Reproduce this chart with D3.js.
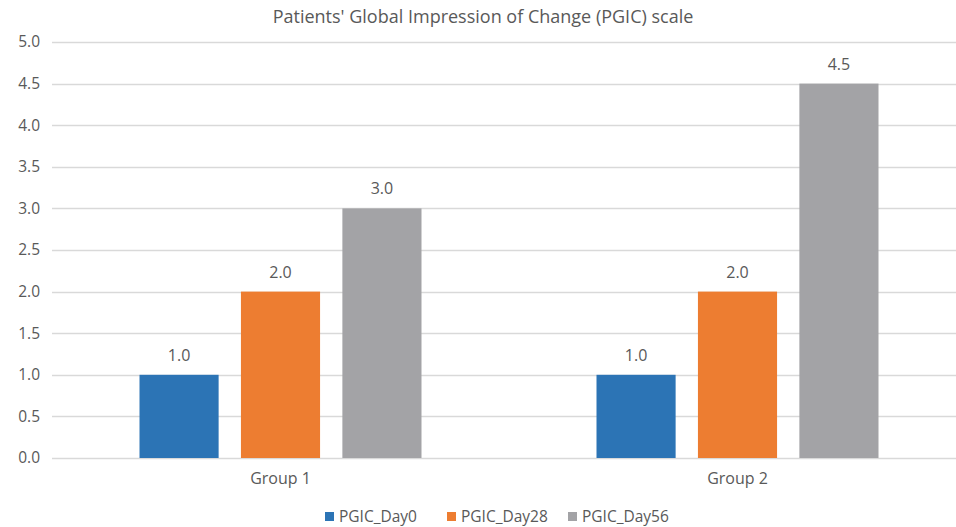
<!DOCTYPE html>
<html>
<head>
<meta charset="utf-8">
<script src="https://cdn.jsdelivr.net/npm/d3@7"></script>
<style>
  body { margin: 0; background: #fff; }
  text { font-family: "Open Sans", "Liberation Sans", sans-serif; fill: #595959; }
</style>
</head>
<body>
<div id="chart-area"></div>
<script>
// Data
const groups = ["Group 1", "Group 2"];
const series = ["PGIC_Day0", "PGIC_Day28", "PGIC_Day56"];
const day0Values = [1.0, 1.0];
const day28Values = [2.0, 2.0];
const day56Values = [3.0, 4.5];
const yTicks = [0, 0.5, 1, 1.5, 2, 2.5, 3, 3.5, 4, 4.5, 5];
const colors = ["#2c74b5", "#ed7d31", "#a3a3a6"];

const seriesValues = [day0Values, day28Values, day56Values];

let width = 956, height = 527;
let margin = {top: 42, right: 0, bottom: 69, left: 52};

let svg = d3.select("#chart-area").append("svg")
    .attr("width", width)
    .attr("height", height);

// Scales
let x0 = d3.scaleBand().domain(groups).range([margin.left, 966]).padding(0);
let x1 = d3.scaleBand().domain(series).range([-141, 141]).paddingInner(0.22).paddingOuter(0);
let y = d3.scaleLinear().domain([0, 5]).range([height - margin.bottom, margin.top]);

// Y axis labels
let yAxis = svg.append("g")
    .attr("transform", "translate(" + (margin.left - 12) + ",0)")
    .call(d3.axisLeft(y).tickValues(yTicks).tickFormat(d3.format(".1f")).tickSize(0));
yAxis.select(".domain").remove();
yAxis.selectAll("text")
    .attr("x", 0)
    .style("font-size", "15.5px")
    .style("font-family", "'Open Sans', sans-serif")
    .attr("fill", "#6e6e6e");

// Gridlines
svg.append("g")
    .selectAll("line")
    .data(yTicks)
    .enter()
    .append("line")
    .attr("x1", margin.left)
    .attr("x2", width)
    .attr("y1", d => Math.round(y(d)) + 0.5)
    .attr("y2", d => Math.round(y(d)) + 0.5)
    .attr("stroke", "#d9d9d9")
    .attr("stroke-width", 1.5);

// Bars
let rows = [];
groups.forEach((g, gi) => {
    series.forEach((s, si) => {
        rows.push({group: g, series: s, value: seriesValues[si][gi], color: colors[si]});
    });
});

let cx = g => x0(g) + x0.bandwidth() / 2;

svg.append("g")
    .selectAll("rect")
    .data(rows)
    .enter()
    .append("rect")
    .attr("x", d => cx(d.group) + x1(d.series))
    .attr("y", d => y(d.value))
    .attr("width", x1.bandwidth())
    .attr("height", d => y(0) - y(d.value))
    .attr("fill", d => d.color);

// Value labels
svg.append("g")
    .selectAll("text")
    .data(rows)
    .enter()
    .append("text")
    .attr("x", d => cx(d.group) + x1(d.series) + x1.bandwidth() / 2)
    .attr("y", d => y(d.value) - 14)
    .attr("text-anchor", "middle")
    .style("font-size", "16px")
    .text(d => d3.format(".1f")(d.value));

// X axis labels
let xAxis = svg.append("g")
    .attr("transform", "translate(0," + (height - margin.bottom) + ")")
    .call(d3.axisBottom(x0).tickSize(0));
xAxis.select(".domain").remove();
xAxis.selectAll("text")
    .attr("y", 15)
    .style("font-size", "16px")
    .style("font-family", "'Open Sans', sans-serif")
    .attr("fill", "#595959");

// Title
svg.append("text")
    .attr("x", 483)
    .attr("y", 23)
    .attr("text-anchor", "middle")
    .style("font-size", "18px")
    .text("Patients' Global Impression of Change (PGIC) scale");

// Legend
let legendX = [325, 447, 568];
let legend = svg.append("g")
    .selectAll("g")
    .data(series)
    .enter()
    .append("g")
    .attr("transform", (d, i) => "translate(" + legendX[i] + ",512)");

legend.append("rect")
    .attr("width", 9)
    .attr("height", 9)
    .attr("fill", (d, i) => colors[i]);

legend.append("text")
    .attr("x", 14)
    .attr("y", 9.5)
    .style("font-size", "15.5px")
    .text(d => d);
</script>
</body>
</html>
